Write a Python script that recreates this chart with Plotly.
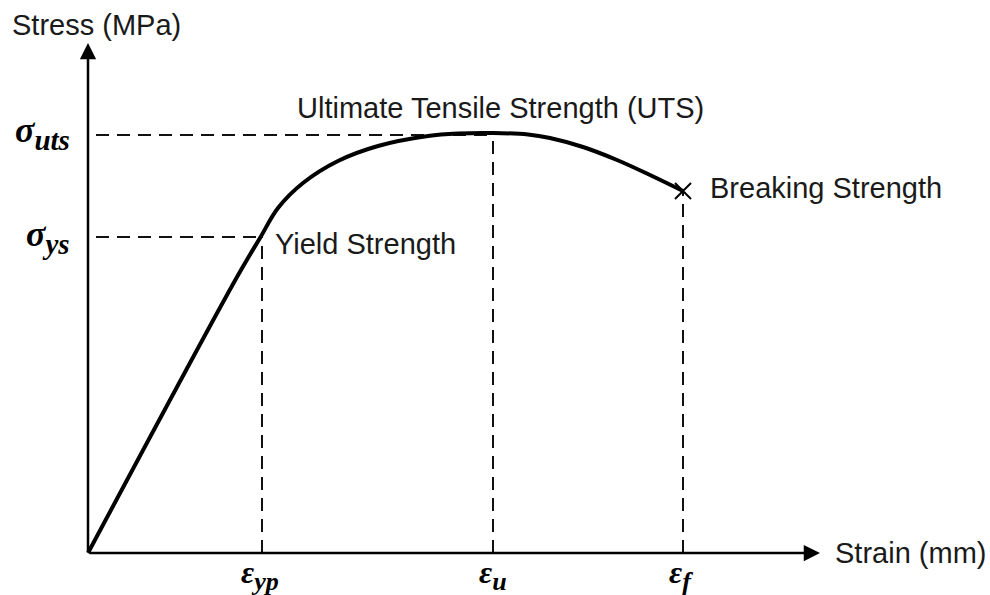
import plotly.graph_objects as go

# Stress-strain curve (arbitrary units)
strain = [0.0, 1.49, 1.72, 1.90, 2.15, 2.50, 2.90, 3.40, 3.70, 4.05, 4.40, 4.62, 4.95, 5.29, 5.62, 5.95]
stress = [0.0, 2.76, 3.15, 3.45, 3.70, 3.92, 4.07, 4.17, 4.195, 4.20, 4.185, 4.15, 4.06, 3.93, 3.78, 3.62]

# key points
eps_yp, sig_ys = 1.74, 3.16
eps_u, sig_uts = 4.05, 4.18
eps_f, sig_f = 5.95, 3.62

x_axis_end = 7.32
y_axis_end = 5.10

fig = go.Figure()

dash = dict(color="#111", width=2, dash="13px,8px")
# guide lines
fig.add_trace(go.Scatter(x=[0.08, eps_u], y=[sig_uts, sig_uts], mode="lines", line=dash, hoverinfo="skip"))
fig.add_trace(go.Scatter(x=[0.08, eps_yp], y=[sig_ys, sig_ys], mode="lines", line=dash, hoverinfo="skip"))
fig.add_trace(go.Scatter(x=[eps_yp, eps_yp], y=[0, sig_ys], mode="lines", line=dash, hoverinfo="skip"))
fig.add_trace(go.Scatter(x=[eps_u, eps_u], y=[0, sig_uts], mode="lines", line=dash, hoverinfo="skip"))
fig.add_trace(go.Scatter(x=[eps_f, eps_f], y=[0, sig_f], mode="lines", line=dash, hoverinfo="skip"))

# curve
fig.add_trace(go.Scatter(x=strain, y=stress, mode="lines",
                         line=dict(color="#000", width=4, shape="spline", smoothing=1.0),
                         hoverinfo="skip"))
# break marker
fig.add_trace(go.Scatter(x=[eps_f], y=[sig_f], mode="markers",
                         marker=dict(symbol="x-thin", size=16, line=dict(color="#000", width=2)),
                         hoverinfo="skip"))

anns = []
# axes arrows
anns.append(dict(x=x_axis_end, y=0, ax=0, ay=0, xref="x", yref="y", axref="x", ayref="y",
                 text="", showarrow=True, arrowhead=2, arrowsize=1.3, arrowwidth=2.5,
                 arrowcolor="#000", standoff=0))
anns.append(dict(x=0, y=y_axis_end, ax=0, ay=0, xref="x", yref="y", axref="x", ayref="y",
                 text="", showarrow=True, arrowhead=2, arrowsize=1.3, arrowwidth=2.5,
                 arrowcolor="#000", standoff=0))

sans = dict(family="Liberation Sans, Arial", size=29, color="#1a1a1a")
serif_s = dict(family="Liberation Serif, Times New Roman", size=36, color="#000")
serif_e = dict(family="Liberation Serif, Times New Roman", size=32, color="#000")

def txt(x, y, t, font, xa="left", ya="middle"):
    anns.append(dict(x=x, y=y, xref="x", yref="y", text=t, showarrow=False,
                     font=font, xanchor=xa, yanchor=ya))

def sym(base, sub, subsize):
    return "<b><i>%s<sub><span style='font-size:%dpx'>%s</span></sub></i></b>" % (base, subsize, sub)

txt(-0.78, 5.28, "Stress (MPa)", sans)
txt(4.12, 4.45, "Ultimate Tensile Strength (UTS)", sans, xa="center")
txt(1.85, 3.09, "Yield Strength", sans)
txt(6.20, 3.65, "Breaking Strength", sans)
txt(7.45, 0.0, "Strain (mm)", sans)

txt(-0.16, sig_uts + 0.02, sym("σ", "uts", 29), serif_s, xa="right")
txt(-0.16, sig_ys, sym("σ", "ys", 29), serif_s, xa="right")

txt(eps_yp - 0.02, -0.22, sym("ε", "yp", 26), serif_e, xa="center")
txt(eps_u, -0.22, sym("ε", "u", 26), serif_e, xa="center")
txt(eps_f - 0.02, -0.22, sym("ε", "f", 26), serif_e, xa="center")

fig.update_layout(
    width=990, height=595,
    margin=dict(l=0, r=0, t=0, b=0),
    paper_bgcolor="white", plot_bgcolor="white",
    showlegend=False,
    annotations=anns,
    xaxis=dict(range=[-0.88, 9.02], visible=False, fixedrange=True),
    yaxis=dict(range=[-0.42, 5.53], visible=False, fixedrange=True),
)

# remove the default page margin so the figure fills the window exactly
fig.write_html("out.html",
               config={"displayModeBar": False, "staticPlot": True},
               post_script="document.body.style.margin='0px';document.body.style.overflow='hidden';")
